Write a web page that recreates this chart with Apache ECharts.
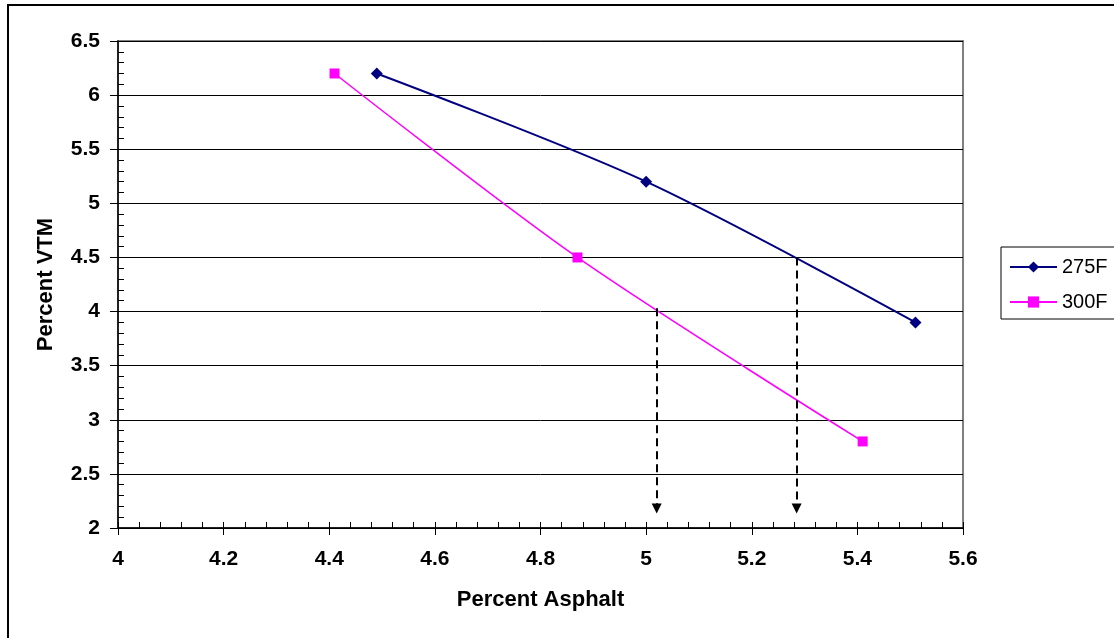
<!DOCTYPE html>
<html>
<head>
<meta charset="utf-8">
<script src="https://cdn.jsdelivr.net/npm/echarts@6/dist/echarts.min.js"></script>
<style>html,body{margin:0;padding:0;background:#fff;}#c{width:1114px;height:638px;}</style>
</head>
<body>
<div id="c"></div>
<script>
// ---- data ----
const seriesNames = ['275F', '300F'];
const x275 = [4.49, 5.0, 5.51];
const y275 = [6.2, 5.2, 3.9];
const x300 = [4.41, 4.87, 5.41];
const y300 = [6.2, 4.5, 2.8];
const arrowX = [5.02, 5.285];
const arrowFromY = [4.03, 4.5];
const arrowToY = [2.18, 2.18];
const xTicks = [4, 4.2, 4.4, 4.6, 4.8, 5, 5.2, 5.4, 5.6];
const yTicks = [2, 2.5, 3, 3.5, 4, 4.5, 5, 5.5, 6, 6.5];

const FONT = 'Liberation Sans, Arial, sans-serif';
const zip = (xs, ys) => xs.map((x, i) => [x, ys[i]]);

const xMin = xTicks[0], xMax = xTicks[xTicks.length - 1];
const yMin = yTicks[0], yMax = yTicks[yTicks.length - 1];

const chart = echarts.init(document.getElementById('c'));
chart.setOption({
  backgroundColor: '#fff',
  animation: false,
  graphic: [{
    type: 'rect', shape: {x: 8, y: 5, width: 3000, height: 3000},
    style: {fill: 'none', stroke: '#000', lineWidth: 2}, z: 100, silent: true
  }],
  grid: {left: 118, right: 151, top: 41, bottom: 110, show: true,
         borderColor: '#808080', borderWidth: 2, backgroundColor: '#fff'},
  legend: {
    data: seriesNames, orient: 'vertical', left: 1001, top: 247,
    padding: [10, 30, 7, 8], itemWidth: 47, itemHeight: 14, itemGap: 15,
    borderColor: '#000', borderWidth: 1, backgroundColor: '#fff',
    textStyle: {fontFamily: FONT, fontSize: 20, color: '#000'}
  },
  xAxis: [{
    type: 'value', min: xMin, max: xMax, interval: 0.2,
    name: 'Percent Asphalt', nameLocation: 'middle', nameGap: 61,
    nameTextStyle: {fontFamily: FONT, fontSize: 22, fontWeight: 'bold', color: '#000'},
    axisLine: {show: true, onZero: false, lineStyle: {color: '#000', width: 1.5}},
    axisTick: {show: true, inside: true, length: 6, lineStyle: {color: '#000'}},
    minorTick: {show: true, splitNumber: 5, length: 6, lineStyle: {color: '#000'}},
    splitLine: {show: false},
    axisLabel: {fontFamily: FONT, fontSize: 21, fontWeight: 'bold', color: '#000', margin: 21,
                formatter: v => String(+v.toFixed(1))}
  }, {
    type: 'value', min: xMin, max: xMax, interval: 0.2, position: 'bottom', offset: 0,
    axisLine: {show: false}, axisLabel: {show: false}, splitLine: {show: false},
    axisTick: {show: true, inside: false, length: 7, lineStyle: {color: '#000'}}
  }],
  yAxis: [{
    type: 'value', min: yMin, max: yMax, interval: 0.5,
    name: 'Percent VTM', nameLocation: 'middle', nameGap: 61,
    nameTextStyle: {fontFamily: FONT, fontSize: 22, fontWeight: 'bold', color: '#000'},
    axisLine: {show: true, onZero: false, lineStyle: {color: '#000', width: 1.5}},
    axisTick: {show: true, inside: true, length: 6, lineStyle: {color: '#000'}},
    minorTick: {show: true, splitNumber: 5, length: 6, lineStyle: {color: '#000'}},
    splitLine: {show: true, lineStyle: {color: '#000', width: 1}},
    axisLabel: {fontFamily: FONT, fontSize: 21, fontWeight: 'bold', color: '#000', margin: 18,
                formatter: v => String(+v.toFixed(1))}
  }, {
    type: 'value', min: yMin, max: yMax, interval: 0.5, position: 'left', offset: 0,
    axisLine: {show: false}, axisLabel: {show: false}, splitLine: {show: false},
    axisTick: {show: true, inside: false, length: 8, lineStyle: {color: '#000'}}
  }],
  series: [{
    name: seriesNames[0], type: 'line', data: zip(x275, y275), smooth: 0.3,
    symbol: 'diamond', symbolSize: 12, color: '#000080',
    lineStyle: {color: '#000080', width: 2}, itemStyle: {color: '#000080'}, z: 3
  }, {
    name: seriesNames[1], type: 'line', data: zip(x300, y300), smooth: 0.3,
    symbol: 'rect', symbolSize: 10, color: '#FF00FF',
    lineStyle: {color: '#FF00FF', width: 1.5}, itemStyle: {color: '#FF00FF'}, z: 3,
    markLine: {
      silent: true, animation: false,
      symbol: ['none', 'triangle'], symbolSize: 10,
      label: {show: false},
      lineStyle: {color: '#000', width: 2, type: [8, 5]},
      data: arrowX.map((x, i) => [{coord: [x, arrowFromY[i]]}, {coord: [x, arrowToY[i]]}])
    }
  }]
});
</script>
</body>
</html>
